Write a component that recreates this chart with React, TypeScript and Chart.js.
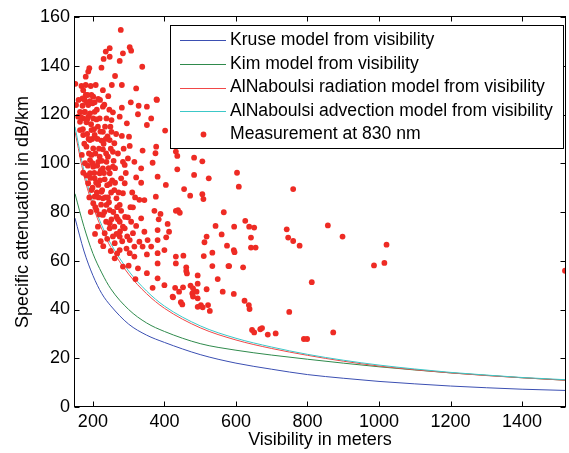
import { useEffect, useRef } from "react";
import { Chart, registerables } from "chart.js";

Chart.register(...registerables);

// ---- data ----
const visibility = [150, 175, 200, 225, 250, 300, 350, 400, 500, 600, 700, 800, 900, 1000, 1100, 1200, 1300, 1400, 1520];
const kruse = [77.5, 64, 54, 46.5, 41.5, 34, 29.5, 26.5, 21.5, 18, 15.5, 13.3, 11.8, 10.5, 9.5, 8.6, 7.9, 7.3, 6.8];
const kim = [87.5, 74, 63, 55, 48.5, 40, 34.5, 31, 26, 23.3, 21.3, 19.6, 18, 16.5, 15.2, 14, 13, 12, 11];
const radiation = [113, 95, 82.5, 73, 65.5, 54.5, 46.5, 40.5, 32.5, 27.5, 24, 21.2, 18.8, 16.8, 15.3, 14, 12.9, 12, 11];
const advection = [115, 97, 84, 74.5, 67, 55.8, 47.6, 41.4, 33.3, 28.2, 24.6, 21.6, 19.2, 17.2, 15.6, 14.2, 13.1, 12.1, 11.2];

const xTicks = [200, 400, 600, 800, 1000, 1200, 1400];
const yTicks = [0, 20, 40, 60, 80, 100, 120, 140, 160];

const seriesLabels = [
  "Kruse model from visibility",
  "Kim model from visibility",
  "AlNaboulsi radiation model from visibility",
  "AlNaboulsi advection model from visibility",
  "Measurement at 830 nm",
];

// measurement points: [visibility (m), attenuation (dB/km)]
const measurements: [number, number][] = [
  [278,154.7],[247,147.2],[236,145.8],[303,147.6],[307,146.2],[247,143.7],[230,142.8],[284,145.1],[275,142],[190,139],
  [187,137.6],[224,139.2],[338,139.6],[180,135.5],[262,135.8],[151,132.6],[168,131.7],[180,132.1],[194,131.7],[208,132.1],
  [228,130],[253,132.1],[281,132.1],[173,130],[321,130.7],[243,127.5],[180,128],[171,126.6],[201,127.3],[215,126.4],
  [379,126],[306,125],[192,125.5],[205,125],[153,123.9],[228,123.2],[281,122.8],[328,123.6],[351,123.2],[171,123.6],
  [187,123.9],[199,124.6],[164,121.1],[178,121.1],[192,120.5],[205,121.1],[256,120.9],[326,120.1],[159,119.1],[173,118.4],
  [187,119.1],[201,118.4],[219,118.4],[238,118.4],[252,117.7],[275,119.1],[363,118.4],[164,117],[182,116.8],[295,116.4],
  [351,115.7],
  [402,113.4],[164,113.6],[196,113.6],[228,112.9],[252,112.9],[173,111.6],[205,111.6],[281,111.2],[301,110.9],[192,109.5],
  [224,109.3],[247,109.5],[260,108.2],[303,107.1],[182,106.8],[201,106.1],[228,105.7],[256,104.7],[339,105.2],[375,104.1],
  [169,103.4],[196,103.4],[219,102.7],[242,102.7],[192,101.3],[215,100.6],[238,100.6],[284,100.6],[316,100.6],[367,100.2],
  [436,97.5],[201,98.6],[228,97.9],[256,98.6],[289,99.3],[335,97.9],[173,96.1],[192,95.9],[219,95.9],[247,95.9],
  [205,93.8],[233,93.4],[279,93.8],[321,94.2],[381,94.5],[187,91.8],[215,91.1],[247,91.5],[289,91.8],[335,92],
  [404,91.1],[196,89],[224,88.3],[260,89],[284,87.7],[376,86.3],[205,86.3],[228,85.6],[266,85.6],[344,84.9],
  [201,83.6],[238,82.9],[275,82.9],[312,81.9],[210,80.8],[247,80.8],[279,80.5],[372,80.5],[432,80.5],[228,78.8],
  [266,78.1],[298,77.8],[335,77.4],[384,77],[247,75.4],[275,76],[307,76],[409,75.1],[321,74.3],[284,74],
  [233,71.3],[247,73.3],[275,69.9],[289,73.3],[312,71.3],[344,71.9],[381,72.6],[413,71.9],[303,68.5],[330,67.8],
  [353,68.5],[381,68.5],[261,67.2],[316,65.8],[339,65.8],[363,65.8],[275,64.4],[303,63.1],[400,64.4],[351,62.6],
  [381,63.1],[261,61],[316,61.7],[432,61.7],[284,57.6],[326,56.9],[381,58.9],[432,58.9],[351,54.9],[319,52.5],
  [381,52.8],[400,50],[367,48.9],[430,48.9],[423,45.3],[441,47.3],
  [455,89.4],[506,87.3],[472,86.7],[509,85.3],[608,90.4],[760,89.4],[438,80.8],[443,79.7],[566,79.9],[626,76.4],
  [595,74],[637,74],[651,73.6],[560,70.8],[518,69.9],[742,72.9],[746,69.5],[642,69.5],[760,68.1],[778,66.2],
  [512,67.6],[575,66.2],[642,65.4],[655,65.4],[594,64.4],[596,63.5],[534,63.3],[453,62.1],[510,61.9],[534,57.8],
  [581,57.8],[620,57.3],[461,57.3],[461,55.8],[463,54.8],[493,54],[549,52.5],[452,49.1],[473,49.8],[493,50.6],
  [518,48.3],[478,46.6],[490,47.3],[563,47.3],[594,46.4],[493,44.6],[446,43],[450,42.1],[502,41.8],[493,41.1],
  [507,40.9],[624,43.6],[636,41.8],[638,40.2],[527,39.4],[749,39],
  [522,41.8],[645,31.6],[651,30.6],[668,31.9],[673,32.4],[689,29.7],[711,30.2],[790,27.9],[799,27.9],[872,30.6],
  [857,74.5],[898,69.9],[1021,66.6],[986,58.1],[1015,59.1],[812,51.2],[1520,55.9],
  [378,126.2],[377,106.8],[432,104.8],[436,103],[483,102.3],[506,100.8],[483,95.2],[524,93.8],[603,96.1],[389,79.2],
  [405,69.6],[543,74.3],[424,45],[480,48.7],[480,45.3],[579,57.8],
  [176,108],[184,112],[189,104],[195,116],[198,110],[203,114],[207,104],[210,118],[213,110],[217,106],
  [221,113],[225,101],[230,108],[234,115],[237,104],[241,111],[244,98],[250,106],[254,93],[258,101],
  [186,99],[193,94],[199,100],[204,96],[209,92],[212,99],[216,86],[220,93],[226,89],[231,96],
  [235,86],[240,91],[245,84],[251,88],[257,80],[262,92],[268,82],[272,88],[190,86],[194,80],
  [199,90],[207,82],[211,88],[218,79],[223,83],[232,80],[237,76],[242,86],[252,77],[260,74],
  [266,71],[270,77],[276,72],[282,68],[290,78],[296,70],[305,82],[310,88],[318,86],[330,85],
  [292,96],[298,102],[270,104],[265,112],[286,106],[177,126],[183,125],[196,128],[211,122],[220,126],
  [232,124],[246,122],[160,126],[166,119],[172,114],[184,118],
  [178,100],[182,95],[188,110],[185,128],[176,121],[214,115],[222,97],[236,110],[249,115],[262,98],
  [206,71],[214,74],[222,68],[229,66],[240,69],[250,64],[256,70],[268,63],[294,65],[300,58],
];

const FONT = '"Liberation Sans", Arial, Helvetica, sans-serif';
const lineColors = ["#3b4fb2", "#2f8a4c", "#f04848", "#3cc8c8"];
const dotColor = "#ee2b24";

const framePlugin = {
  id: "matlabFrame",
  afterDatasetsDraw(chart: any) {
    const { ctx, chartArea: a, scales } = chart;
    const L = Math.round(a.left) - 0.5;
    const R = Math.round(a.right) + 0.5;
    const T = Math.round(a.top) - 0.5;
    const B = Math.round(a.bottom) - 0.5;
    ctx.save();
    ctx.strokeStyle = "#000";
    ctx.lineWidth = 1;
    ctx.strokeRect(L, T, R - L, B - T);
    const tl = 5;
    ctx.beginPath();
    for (const v of xTicks) {
      const px = Math.round(scales.x.getPixelForValue(v)) + 0.5;
      ctx.moveTo(px, B);
      ctx.lineTo(px, B - tl);
      ctx.moveTo(px, T);
      ctx.lineTo(px, T + tl);
    }
    for (const v of yTicks) {
      const py = Math.round(scales.y.getPixelForValue(v)) + 0.5;
      ctx.moveTo(L, py);
      ctx.lineTo(L + tl, py);
      ctx.moveTo(R, py);
      ctx.lineTo(R - tl, py);
    }
    ctx.stroke();
    ctx.restore();
  },
  afterDraw(chart: any) {
    const { ctx } = chart;
    const box = { x: 170.5, y: 25.5, w: 393, h: 123 };
    ctx.save();
    ctx.fillStyle = "#fff";
    ctx.fillRect(box.x, box.y, box.w, box.h);
    ctx.strokeStyle = "#000";
    ctx.lineWidth = 1;
    ctx.strokeRect(box.x, box.y, box.w, box.h);
    ctx.font = `17.6px ${FONT}`;
    ctx.textBaseline = "middle";
    ctx.textAlign = "left";
    const rows = [39.7, 63.7, 87.5, 111, 134.5];
    chart.data.datasets.forEach((ds: any, i: number) => {
      const y = rows[i];
      if (ds.type === "line") {
        ctx.strokeStyle = ds.borderColor;
        ctx.lineWidth = 1;
        ctx.beginPath();
        ctx.moveTo(180, Math.round(y) + 0.5);
        ctx.lineTo(226, Math.round(y) + 0.5);
        ctx.stroke();
      } else {
        ctx.fillStyle = ds.backgroundColor;
        ctx.beginPath();
        ctx.arc(203.5, y, 2.9, 0, Math.PI * 2);
        ctx.fill();
      }
      ctx.fillStyle = "#000";
      ctx.fillText(ds.label, 230, y);
    });
    ctx.restore();
  },
};

export default function App() {
  const ref = useRef<HTMLCanvasElement | null>(null);

  useEffect(() => {
    if (!ref.current) return;
    Chart.defaults.font.family = FONT;
    const curve = (vals: number[]) => visibility.map((v, i) => ({ x: v, y: vals[i] }));
    const curves = [kruse, kim, radiation, advection];
    const datasets: any[] = curves.map((vals, i) => ({
      type: "line",
      label: seriesLabels[i],
      data: curve(vals),
      borderColor: lineColors[i],
      backgroundColor: lineColors[i],
      borderWidth: 1,
      pointRadius: 0,
      cubicInterpolationMode: "monotone",
      fill: false,
      order: 4 - i,
    }));
    datasets.push({
      type: "scatter",
      label: seriesLabels[4],
      data: measurements.map(([x, y]) => ({ x, y })),
      backgroundColor: dotColor,
      borderWidth: 0,
      pointRadius: 2.9,
      order: 0,
    });

    const tickFont = { family: FONT, size: 18 };
    const chart = new Chart(ref.current, {
      type: "scatter",
      data: { datasets },
      options: {
        responsive: false,
        animation: false,
        events: [],
        layout: { padding: { top: 17, right: 1, left: 0, bottom: 0 } },
        plugins: { legend: { display: false }, tooltip: { enabled: false } },
        scales: {
          x: {
            type: "linear",
            min: 150,
            max: 1520,
            afterBuildTicks: (s: any) => {
              s.ticks = xTicks.map((v) => ({ value: v }));
            },
            afterFit: (s: any) => {
              s.height = 46;
            },
            grid: { display: false, drawTicks: false },
            border: { display: false },
            ticks: {
              font: tickFont,
              color: "#000",
              padding: 4,
              maxRotation: 0,
              autoSkip: false,
              callback: (v: any) => String(v),
            },
            title: {
              display: true,
              text: "Visibility in meters",
              font: tickFont,
              color: "#000",
              padding: { top: 0, bottom: 2 },
            },
          },
          y: {
            type: "linear",
            min: 0,
            max: 160,
            afterBuildTicks: (s: any) => {
              s.ticks = yTicks.map((v) => ({ value: v }));
            },
            afterFit: (s: any) => {
              s.width = 75;
            },
            grid: { display: false, drawTicks: false },
            border: { display: false },
            ticks: { font: tickFont, color: "#000", padding: 5, autoSkip: false, callback: (v: any) => String(v) },
            title: {
              display: true,
              text: "Specific attenuation in dB/km",
              font: tickFont,
              color: "#000",
              padding: { top: 12, bottom: 0 },
            },
          },
        },
      } as any,
      plugins: [framePlugin],
    });
    return () => chart.destroy();
  }, []);

  return (
    <div style={{ position: "fixed", left: 0, top: 0, width: 569, height: 453, background: "#fff" }}>
      <canvas ref={ref} width={569} height={453} style={{ display: "block" }} />
    </div>
  );
}
